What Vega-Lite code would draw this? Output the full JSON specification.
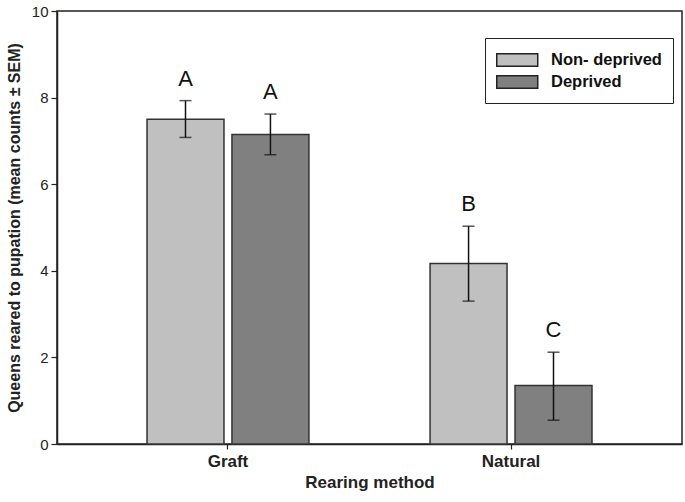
{
  "$schema": "https://vega.github.io/schema/vega-lite/v6.json",
  "width": 625,
  "height": 433,
  "autosize": {"type": "none"},
  "padding": {"left": 57, "top": 11, "right": 3, "bottom": 58},
  "background": "white",
  "config": {
    "font": "Liberation Sans",
    "view": {"stroke": "#222", "strokeWidth": 1.5},
    "axis": {
      "domainColor": "#222", "domainWidth": 1.5,
      "tickColor": "#222", "tickWidth": 1.2, "tickSize": 6,
      "grid": false,
      "labelFont": "Liberation Sans", "labelColor": "#222",
      "titleFont": "Liberation Sans", "titleColor": "#222"
    }
  },
  "data": {
    "values": [
      {"method": "Graft", "treat": "Non- deprived", "mean": 7.5, "lo": 7.08, "hi": 7.93, "letter": "A"},
      {"method": "Graft", "treat": "Deprived", "mean": 7.15, "lo": 6.68, "hi": 7.62, "letter": "A"},
      {"method": "Natural", "treat": "Non- deprived", "mean": 4.17, "lo": 3.3, "hi": 5.03, "letter": "B"},
      {"method": "Natural", "treat": "Deprived", "mean": 1.35, "lo": 0.55, "hi": 2.12, "letter": "C"}
    ]
  },
  "encoding": {
    "x": {
      "field": "method", "type": "nominal",
      "scale": {"paddingInner": 0.428, "paddingOuter": 0.318},
      "axis": {
        "title": "Rearing method", "titleFontSize": 17, "titleFontWeight": "bold", "titlePadding": 5,
        "labelAngle": 0, "labelFontSize": 17, "labelFontWeight": "bold", "labelPadding": 4, "tickSize": 5
      }
    },
    "xOffset": {
      "field": "treat", "type": "nominal",
      "sort": ["Non- deprived", "Deprived"],
      "scale": {"paddingInner": 0.094, "paddingOuter": 0}
    }
  },
  "layer": [
    {
      "mark": {"type": "bar", "stroke": "#333", "strokeWidth": 1.5},
      "encoding": {
        "y": {
          "field": "mean", "type": "quantitative",
          "scale": {"domain": [0, 10], "nice": false},
          "axis": {
            "title": "Queens reared to pupation (mean counts ± SEM)",
            "titleFontSize": 16, "titleFontWeight": "bold", "titlePadding": 9,
            "values": [0, 2, 4, 6, 8, 10],
            "labelFontSize": 15, "labelPadding": 3
          }
        },
        "color": {
          "field": "treat", "type": "nominal",
          "sort": ["Non- deprived", "Deprived"],
          "scale": {"domain": ["Non- deprived", "Deprived"], "range": ["#c0c0c0", "#808080"]},
          "legend": {
            "title": null, "orient": "none", "legendX": 428, "legendY": 27,
            "strokeColor": "#222", "padding": 11,
            "symbolType": "M-1,-0.6H3V0.6H-1Z", "symbolSize": 420,
            "symbolStrokeColor": "#222", "symbolStrokeWidth": 1.5, "symbolOpacity": 1,
            "labelFontSize": 16.5, "labelFontWeight": "bold", "labelColor": "#111",
            "labelOffset": 33, "rowPadding": 1
          }
        }
      }
    },
    {
      "mark": {"type": "rule", "color": "#111", "strokeWidth": 1.5},
      "encoding": {
        "y": {"field": "lo", "type": "quantitative"},
        "y2": {"field": "hi"}
      }
    },
    {
      "mark": {"type": "tick", "color": "#111", "thickness": 1.5, "size": 12, "orient": "horizontal"},
      "encoding": {"y": {"field": "lo", "type": "quantitative"}}
    },
    {
      "mark": {"type": "tick", "color": "#111", "thickness": 1.5, "size": 12, "orient": "horizontal"},
      "encoding": {"y": {"field": "hi", "type": "quantitative"}}
    },
    {
      "mark": {"type": "text", "baseline": "bottom", "dy": -10, "fontSize": 22, "color": "#111"},
      "encoding": {
        "y": {"field": "hi", "type": "quantitative"},
        "text": {"field": "letter"}
      }
    }
  ]
}
